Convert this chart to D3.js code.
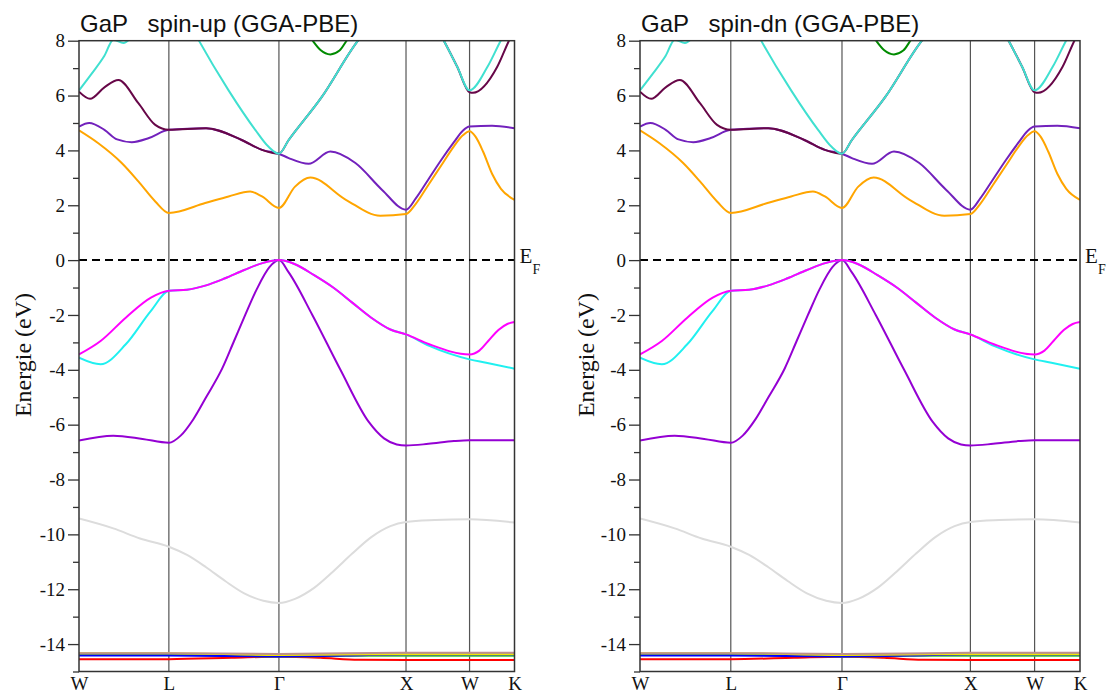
<!DOCTYPE html>
<html lang="en">
<head>
<meta charset="UTF-8">
<title>GaP band structure (GGA-PBE)</title>
<script src="https://d3js.org/d3.v7.min.js"></script>
<style>
  body { margin: 0; background: #fff; }
  svg { display: block; }
</style>
</head>
<body>
<svg width="1112" height="700"></svg>
<script>
// path W-L-G-X-W-K, distances in units of 2pi/a
const kLabels = ["W", "L", "\u0393", "X", "W", "K"];
const kPoints = [0, 0.7071, 1.5731, 2.5731, 3.0731, 3.4267];

const yMajor = [-14, -12, -10, -8, -6, -4, -2, 0, 2, 4, 6, 8];
const yMinor = [-15, -13, -11, -9, -7, -5, -3, -1, 1, 3, 5, 7];

const panelTitles = ["GaP   spin-up (GGA-PBE)", "GaP   spin-dn (GGA-PBE)"];

// bands: [k, E (eV)]
// Ga 3d
const bandRed = [[0, -14.55], [0.7071, -14.55], [1.2, -14.5], [1.5731, -14.46], [1.9, -14.5],
  [2.2, -14.57], [2.5731, -14.58], [3.0731, -14.58], [3.4267, -14.58]];
const bandGreen = [[0, -14.39], [0.7071, -14.39], [1.5731, -14.45], [2.1, -14.43],
  [2.5731, -14.43], [3.0731, -14.43], [3.4267, -14.43]];
const bandBlue = [[0, -14.42], [0.7071, -14.42], [1.5731, -14.45], [2.1, -14.42],
  [2.5731, -14.38], [3.0731, -14.38], [3.4267, -14.38]];
const bandYellow = [[0, -14.33], [0.7071, -14.33], [1.5731, -14.4], [2.1, -14.38],
  [2.5731, -14.37], [3.0731, -14.37], [3.4267, -14.37]];
const bandBrown = [[0, -14.33], [0.7071, -14.33], [1.5731, -14.36], [2.5731, -14.32],
  [3.0731, -14.32], [3.4267, -14.32]];
// valence
const bandGrey = [[0, -9.42], [0.27, -9.78], [0.48, -10.15], [0.7071, -10.45], [0.85, -10.75],
  [1.0, -11.2], [1.15, -11.7], [1.3, -12.15], [1.45, -12.42], [1.5731, -12.5], [1.7, -12.35],
  [1.85, -11.95], [2.0, -11.35], [2.15, -10.7], [2.3, -10.1], [2.45, -9.7], [2.5731, -9.55],
  [2.8, -9.48], [3.0731, -9.45], [3.4267, -9.57]];
const bandViolet = [[0, -6.58], [0.27, -6.4], [0.5, -6.52], [0.7071, -6.66], [0.8, -6.4],
  [0.9, -5.8], [1.0, -5.0], [1.127, -3.95], [1.22, -2.95], [1.308, -2.0], [1.4, -1.05],
  [1.5, -0.25], [1.5731, 0], [1.65, -0.45], [1.836, -2.0], [2.057, -4.0], [2.28, -5.9],
  [2.4, -6.5], [2.5, -6.72], [2.5731, -6.76], [2.75, -6.7], [2.95, -6.6], [3.0731, -6.57],
  [3.4267, -6.57]];
const bandCyan = [[0, -3.56], [0.17, -3.8], [0.368, -3.07], [0.566, -1.85], [0.7071, -1.12],
  [0.85, -1.08], [1.0, -0.92], [1.15, -0.66], [1.3, -0.36], [1.45, -0.1], [1.5731, 0],
  [1.7, -0.15], [1.85, -0.55], [2.0, -1.0], [2.15, -1.55], [2.3, -2.1], [2.45, -2.53],
  [2.5731, -2.71], [2.756, -3.13], [3.0731, -3.62], [3.204, -3.74], [3.4267, -3.96]];
const bandMagenta = [[0, -3.44], [0.17, -2.95], [0.368, -2.1], [0.566, -1.37], [0.7071, -1.12],
  [0.85, -1.08], [1.0, -0.92], [1.15, -0.66], [1.3, -0.36], [1.45, -0.1], [1.5731, 0],
  [1.7, -0.15], [1.85, -0.55], [2.0, -1.0], [2.15, -1.55], [2.3, -2.1], [2.45, -2.53],
  [2.5731, -2.71], [2.756, -3.07], [3.0731, -3.44], [3.15, -3.3], [3.22, -2.95],
  [3.3, -2.55], [3.37, -2.33], [3.4267, -2.26]];
// conduction
const bandOrange = [[0, 4.73], [0.152, 4.26], [0.336, 3.54], [0.467, 2.87], [0.6, 2.14],
  [0.7071, 1.72], [0.993, 2.08], [1.177, 2.32], [1.347, 2.5], [1.44, 2.32], [1.5731, 1.9],
  [1.7, 2.68], [1.82, 3.01], [2.1, 2.2], [2.37, 1.62], [2.5731, 1.68], [2.65, 2.05],
  [2.75, 2.75], [2.85, 3.45], [2.95, 4.15], [3.02, 4.55], [3.0731, 4.7], [3.12, 4.5],
  [3.18, 3.95], [3.25, 3.15], [3.32, 2.6], [3.4267, 2.2]];
const bandIndigo = [[0, 4.87], [0.08, 5.0], [0.2, 4.75], [0.3, 4.4], [0.415, 4.3], [0.55, 4.45],
  [0.7071, 4.75], [1.0, 4.81], [1.28, 4.38], [1.44, 4.02], [1.5731, 3.88], [1.65, 3.72],
  [1.807, 3.51], [1.978, 3.96], [2.175, 3.54], [2.385, 2.56], [2.5731, 1.84], [2.65, 2.25],
  [2.75, 2.95], [2.85, 3.65], [2.95, 4.3], [3.02, 4.72], [3.0731, 4.87], [3.25, 4.9],
  [3.4267, 4.81]];
const bandMaroon = [[0, 6.14], [0.087, 5.88], [0.2, 6.3], [0.31, 6.57], [0.467, 5.72], [0.6, 4.93],
  [0.7071, 4.75], [1.0, 4.81], [1.28, 4.38], [1.44, 4.02], [1.5731, 3.88], [1.65, 4.38],
  [1.912, 5.96], [2.2, 8.03], [2.4, 9.0], [2.5731, 9.4], [2.7, 9.2], [2.8, 8.6], [2.871, 8.0],
  [2.976, 7.05], [3.0731, 6.12], [3.1, 6.1], [3.29, 7.04], [3.383, 8.0], [3.4267, 8.4]];
const bandTurquoise = [[0, 6.19], [0.1, 6.8], [0.2, 7.45], [0.27, 8.03], [0.35, 7.92], [0.42, 8.15],
  [0.55, 8.8], [0.7071, 9.3], [0.85, 8.8], [0.94, 8.03], [1.177, 6.19], [1.387, 4.75],
  [1.49, 4.14], [1.5731, 3.88], [1.65, 4.38], [1.912, 5.96], [2.2, 8.03], [2.4, 9.0],
  [2.5731, 9.4], [2.7, 9.2], [2.8, 8.6], [2.871, 8.0], [2.976, 7.05], [3.0731, 6.19],
  [3.213, 7.04], [3.318, 8.0], [3.4267, 8.9]];
const bandGreen4 = [[1.75, 8.6], [1.834, 8.03], [1.9, 7.66], [1.978, 7.5], [2.05, 7.64],
  [2.11, 8.03], [2.2, 8.6]];

const spinUpBands = [bandRed, bandGreen, bandBlue, bandYellow, bandBrown, bandGrey, bandViolet,
  bandCyan, bandMagenta, bandOrange, bandIndigo, bandMaroon, bandTurquoise, bandGreen4];
// spin-dn is the same for non-magnetic GaP
const spinDnBands = spinUpBands;

// xmgrace colour cycle
const bandColors = ["#ff0000", "#33cc33", "#0000ff", "#f0e800", "#bc8f8f", "#dcdcdc", "#9400d3",
  "#20f0f0", "#ff00ff", "#ffa500", "#7221bc", "#670748", "#40e0d0", "#008b00"];

const svg = d3.select("svg");
const plotTop = 40.7, plotBottom = 671.5;

function drawPanel(id, left, right, title, bands, labelX) {
  const x = d3.scaleLinear().domain([0, kPoints[kPoints.length - 1]]).range([left, right]);
  const y = d3.scaleLinear().domain([-15, 8]).range([plotBottom, plotTop]);
  const g = svg.append("g");

  g.append("clipPath").attr("id", "clip" + id)
    .append("rect")
    .attr("x", left).attr("y", plotTop)
    .attr("width", right - left).attr("height", plotBottom - plotTop);

  // vertical lines at the symmetry points
  g.selectAll("line.kline")
    .data(kPoints.slice(1, -1))
    .enter().append("line")
    .attr("class", "kline")
    .attr("x1", d => x(d)).attr("x2", d => x(d))
    .attr("y1", plotTop).attr("y2", plotBottom)
    .attr("stroke", "#555")
    .attr("stroke-width", 1.2);

  // Fermi level
  g.append("line")
    .attr("x1", left).attr("x2", right)
    .attr("y1", y(0)).attr("y2", y(0))
    .attr("stroke", "#000")
    .attr("stroke-width", 2)
    .attr("stroke-dasharray", "8,5");

  const line = d3.line()
    .x(d => x(d[0]))
    .y(d => y(d[1]))
    .curve(d3.curveMonotoneX);

  g.append("g")
    .attr("clip-path", "url(#clip" + id + ")")
    .selectAll("path")
    .data(bands)
    .enter().append("path")
    .attr("d", line)
    .attr("fill", "none")
    .attr("stroke", (d, i) => bandColors[i])
    .attr("stroke-width", 2);

  // frame
  g.append("rect")
    .attr("x", left).attr("y", plotTop)
    .attr("width", right - left).attr("height", plotBottom - plotTop)
    .attr("fill", "none")
    .attr("stroke", "#333")
    .attr("stroke-width", 1.5);

  // y axis
  const yAxis = g.append("g")
    .attr("transform", `translate(${left},0)`)
    .call(d3.axisLeft(y).tickValues(yMajor).tickSize(11).tickPadding(3)
      .tickFormat(d => d < 0 ? "-" + Math.abs(d) : d));
  yAxis.select(".domain").remove();
  yAxis.selectAll("line").attr("stroke", "#333").attr("stroke-width", 1.3);
  yAxis.selectAll("text")
    .attr("font-family", "Liberation Serif, Times New Roman, serif")
    .attr("font-size", 19)
    .attr("fill", "#111");

  const yMinorAxis = g.append("g")
    .attr("transform", `translate(${left},0)`)
    .call(d3.axisLeft(y).tickValues(yMinor).tickSize(6).tickFormat(""));
  yMinorAxis.select(".domain").remove();
  yMinorAxis.selectAll("line").attr("stroke", "#333").attr("stroke-width", 1.3);

  // k labels
  const xAxis = g.append("g")
    .attr("transform", `translate(0,${plotBottom})`)
    .call(d3.axisBottom(x).tickValues(kPoints).tickSize(0).tickPadding(5)
      .tickFormat((d, i) => kLabels[i]));
  xAxis.select(".domain").remove();
  xAxis.selectAll("text")
    .attr("font-family", "Liberation Serif, Times New Roman, serif")
    .attr("font-size", 19)
    .attr("fill", "#111");

  // title
  g.append("text")
    .attr("x", left + 1).attr("y", 32)
    .attr("font-family", "Liberation Sans, Arial, sans-serif")
    .attr("font-size", 24)
    .attr("fill", "#111")
    .style("white-space", "pre")
    .text(title);

  // y label
  g.append("text")
    .attr("transform", `translate(${labelX},355) rotate(-90)`)
    .attr("text-anchor", "middle")
    .attr("font-family", "Liberation Serif, Times New Roman, serif")
    .attr("font-size", 24)
    .attr("fill", "#111")
    .text("Energie (eV)");

  // E_F
  g.append("text")
    .attr("x", right + 5).attr("y", y(0) + 3)
    .attr("font-family", "Liberation Serif, Times New Roman, serif")
    .attr("font-size", 21)
    .attr("fill", "#111")
    .text("E");
  g.append("text")
    .attr("x", right + 18).attr("y", y(0) + 14)
    .attr("font-family", "Liberation Serif, Times New Roman, serif")
    .attr("font-size", 14)
    .attr("fill", "#111")
    .text("F");
}

drawPanel(0, 79, 514.5, panelTitles[0], spinUpBands, 31);
drawPanel(1, 640, 1080, panelTitles[1], spinDnBands, 594);
</script>
</body>
</html>
